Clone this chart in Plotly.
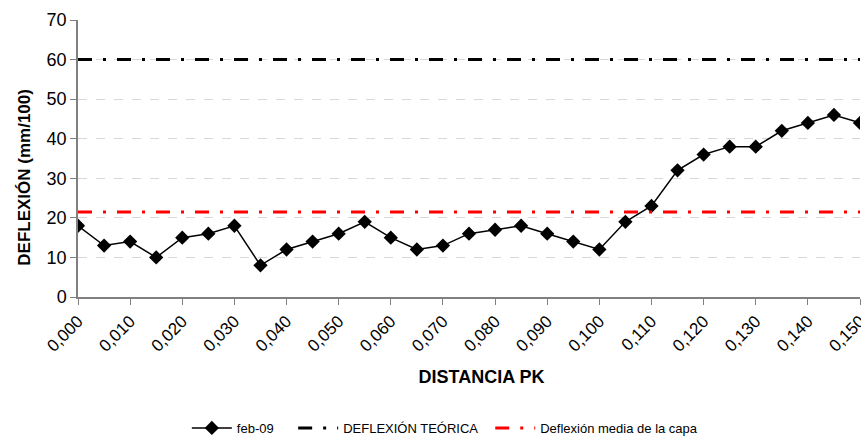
import plotly.graph_objects as go

pk = [round(i * 0.005, 3) for i in range(31)]
deflexion = [18, 13, 14, 10, 15, 16, 18, 8, 12, 14, 16, 19, 15, 12, 13, 16,
             17, 18, 16, 14, 12, 19, 23, 32, 36, 38, 38, 42, 44, 46, 44]
teorica = [60] * len(pk)
media = [21.5] * len(pk)
tick_vals = [round(i * 0.01, 2) for i in range(16)]
tick_text = ["0,%03d" % (i * 10) for i in range(16)]

NB = "\u00a0"
font = "Liberation Sans, Arial, sans-serif"
fig = go.Figure()
fig.add_trace(go.Scatter(x=pk, y=deflexion, name="feb-09" + NB * 4, mode="lines+markers",
                         line=dict(color="black", width=1.5),
                         marker=dict(symbol="diamond", size=11, color="black")))
fig.add_trace(go.Scatter(x=pk, y=teorica, name="DEFLEXIÓN TEÓRICA" + NB * 2, mode="lines",
                         line=dict(color="black", width=3, dash="14px,11px,3px,11px")))
fig.add_trace(go.Scatter(x=pk, y=media, name="Deflexión media de la capa", mode="lines",
                         line=dict(color="#ff0000", width=3, dash="14px,11px,3px,11px")))

fig.update_layout(
    width=861, height=443, margin=dict(l=78, r=1, t=20, b=146, autoexpand=False),
    plot_bgcolor="white", paper_bgcolor="white",
    font=dict(family=font, color="black"),
    showlegend=True,
    legend=dict(orientation="h", xref="container", x=0.217, xanchor="left",
                yref="container", y=0.0, yanchor="bottom",
                font=dict(size=13), itemwidth=40, tracegroupgap=0),
    xaxis=dict(range=[0, 0.150], tickvals=tick_vals, ticktext=tick_text, tickangle=-45,
               tickfont=dict(size=17), ticks="outside", ticklen=6, tickcolor="#808080",
               ticklabeloverflow="allow",
               showline=True, linecolor="#808080", linewidth=1.5, showgrid=False, zeroline=False,
               title=dict(text="<b>" + NB * 5 + "DISTANCIA PK</b>", font=dict(size=18), standoff=16)),
    yaxis=dict(range=[0, 70], dtick=10, tickfont=dict(size=18), ticks="outside", ticklen=6,
               tickcolor="#808080", showline=True, linecolor="#808080", linewidth=1.5,
               showgrid=True, gridcolor="#d8d8d8", griddash="dash", gridwidth=1, zeroline=False,
               title=dict(text="<b>DEFLEXIÓN (mm/100)" + NB * 8 + "</b>", font=dict(size=17), standoff=12)),
)
fig.write_html("out.html")
